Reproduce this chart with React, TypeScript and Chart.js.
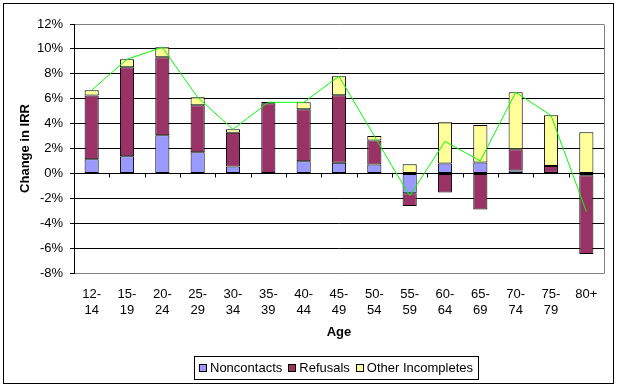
import React, { useEffect, useRef } from "react";
import { Chart, registerables } from "chart.js";

Chart.register(...registerables);

const categories: string[][] = [
  ["12-", "14"], ["15-", "19"], ["20-", "24"], ["25-", "29"], ["30-", "34"],
  ["35-", "39"], ["40-", "44"], ["45-", "49"], ["50-", "54"], ["55-", "59"],
  ["60-", "64"], ["65-", "69"], ["70-", "74"], ["75-", "79"], ["80+"],
];
const noncontacts = [1.13, 1.37, 3.06, 1.69, 0.56, 0, 0.97, 0.86, 0.72, -1.59, 0.8, 0.88, 0.24, -0.05, -0.15];
const refusals = [5.12, 7.16, 6.27, 3.78, 2.71, 5.63, 4.18, 5.41, 1.93, -1.02, -1.53, -2.9, 1.69, 0.6, -6.32];
const otherIncompletes = [0.43, 0.64, 0.8, 0.64, 0.27, 0.11, 0.56, 1.53, 0.35, 0.74, 3.3, 3.01, 4.58, 4.07, 3.3];
const netChange = [6.68, 9.17, 10.13, 6.11, 3.54, 5.71, 5.71, 7.8, 3.0, -1.8, 2.57, 1.0, 6.51, 4.66, -3.07];
const yMin = -8;
const yMax = 12;
const yStep = 2;
const yTitle = "Change in IRR";
const xTitle = "Age";
const seriesNames = ["Noncontacts", "Refusals", "Other Incompletes"];
const seriesColors = ["#9999FF", "#993366", "#FFFF99"];

const FONT = "'Liberation Sans', Arial, sans-serif";

const decorPlugin = {
  id: "decor",
  beforeDraw(chart: any) {
    const { ctx, width, height } = chart;
    ctx.save();
    ctx.fillStyle = "#ffffff";
    ctx.fillRect(0, 0, width, height);
    ctx.restore();
  },
  beforeDatasetsDraw(chart: any) {
    const { ctx, chartArea } = chart;
    ctx.save();
    ctx.strokeStyle = "#808080";
    ctx.lineWidth = 1;
    ctx.beginPath();
    const rx = Math.round(chartArea.right) + 0.5;
    ctx.moveTo(rx, Math.round(chartArea.top) + 0.5);
    ctx.lineTo(rx, Math.round(chartArea.bottom) + 0.5);
    ctx.stroke();
    // category boundary tick marks on the zero line
    const y0 = Math.round(chart.scales.y.getPixelForValue(0)) + 0.5;
    const n = categories.length;
    const step = (chartArea.right - chartArea.left) / n;
    ctx.strokeStyle = "#000000";
    ctx.beginPath();
    for (let i = 1; i <= n; i++) {
      const x = Math.round(chartArea.left + i * step) + 0.5;
      ctx.moveTo(x, y0);
      ctx.lineTo(x, y0 + 4);
    }
    ctx.stroke();
    ctx.restore();
  },
  afterDraw(chart: any) {
    const { ctx, chartArea } = chart;
    ctx.save();
    // outer frame
    ctx.strokeStyle = "#000000";
    ctx.lineWidth = 1;
    ctx.strokeRect(3.5, 3.5, 610, 380);

    ctx.fillStyle = "#000000";
    ctx.textAlign = "center";
    ctx.textBaseline = "middle";
    ctx.font = `bold 13px ${FONT}`;
    // y title
    ctx.save();
    ctx.translate(25, (chartArea.top + chartArea.bottom) / 2);
    ctx.rotate(-Math.PI / 2);
    ctx.fillText(yTitle, 0, 0);
    ctx.restore();
    // x title
    ctx.fillText(xTitle, (chartArea.left + chartArea.right) / 2, 332);

    // legend
    ctx.font = `13px ${FONT}`;
    const box = 8;
    const gapBoxText = 3;
    const gapItems = 6;
    const widths = seriesNames.map((s) => ctx.measureText(s).width);
    let total = 0;
    widths.forEach((w, i) => {
      total += box + gapBoxText + w + (i < widths.length - 1 ? gapItems : 0);
    });
    const padX = 5;
    const cx = 336;
    const lx = Math.round(cx - total / 2 - padX);
    const lw = Math.round(total + padX * 2);
    const ly = 356;
    const lh = 23;
    ctx.strokeRect(lx + 0.5, ly + 0.5, lw, lh);
    let x = lx + padX;
    const cy = ly + lh / 2 + 0.5;
    ctx.textAlign = "left";
    seriesNames.forEach((s, i) => {
      const bx = Math.round(x) + 0.5;
      const by = Math.round(cy - box / 2) + 0.5;
      ctx.fillStyle = seriesColors[i];
      ctx.fillRect(bx, by, box - 1, box - 1);
      ctx.strokeStyle = "#000000";
      ctx.strokeRect(bx, by, box - 1, box - 1);
      ctx.fillStyle = "#000000";
      ctx.fillText(s, x + box + gapBoxText, cy);
      x += box + gapBoxText + widths[i] + gapItems;
    });
    ctx.restore();
  },
};

export default function App() {
  const canvasRef = useRef<HTMLCanvasElement | null>(null);

  useEffect(() => {
    const canvas = canvasRef.current;
    if (!canvas) return;
    Chart.defaults.font.family = FONT;
    Chart.defaults.font.size = 13;
    Chart.defaults.color = "#000000";

    const barCommon = {
      type: "bar" as const,
      borderColor: "#000000",
      borderWidth: 1,
      borderSkipped: false,
      categoryPercentage: 0.4,
      barPercentage: 1,
      stack: "s",
      order: 1,
    };

    const chart = new Chart(canvas, {
      type: "bar",
      data: {
        labels: categories,
        datasets: [
          { ...barCommon, label: seriesNames[0], data: noncontacts, backgroundColor: seriesColors[0] },
          { ...barCommon, label: seriesNames[1], data: refusals, backgroundColor: seriesColors[1] },
          { ...barCommon, label: seriesNames[2], data: otherIncompletes, backgroundColor: seriesColors[2] },
          {
            type: "line" as const,
            label: "Net",
            data: netChange,
            borderColor: "#00FF00",
            borderWidth: 1,
            pointRadius: 0,
            tension: 0,
            fill: false,
            stack: "net",
            order: 0,
          } as any,
        ],
      },
      options: {
        responsive: false,
        animation: false,
        devicePixelRatio: 1,
        layout: { padding: { left: 0, top: 24, right: 19, bottom: 0 } },
        plugins: {
          legend: { display: false },
          tooltip: { enabled: false },
          title: { display: false },
        },
        scales: {
          x: {
            stacked: true,
            grid: { display: false, drawTicks: false, tickLength: 0 },
            border: { display: false },
            ticks: {
              font: { size: 13, lineHeight: 1.25 },
              padding: 13,
              maxRotation: 0,
              minRotation: 0,
              autoSkip: false,
              color: "#000000",
            },
            afterFit: (scale: any) => {
              scale.height = 118;
            },
          },
          y: {
            stacked: true,
            min: yMin,
            max: yMax,
            ticks: {
              stepSize: yStep,
              padding: 7,
              font: { size: 13 },
              color: "#000000",
              callback: (v: any) => `${v}%`,
            },
            grid: {
              color: (c: any) =>
                c.tick && (c.tick.value === yMax || c.tick.value === yMin) ? "#808080" : "#000000",
              tickColor: "#000000",
              tickLength: 4,
              lineWidth: 1,
            },
            border: { display: true, color: "#000000", width: 1 },
            afterFit: (scale: any) => {
              scale.width = 74;
            },
          },
        },
      },
      plugins: [decorPlugin],
    } as any);

    return () => chart.destroy();
  }, []);

  return (
    <div style={{ position: "absolute", left: 0, top: 0, width: 623, height: 391 }}>
      <canvas ref={canvasRef} width={623} height={391} style={{ width: 623, height: 391 }} />
    </div>
  );
}
